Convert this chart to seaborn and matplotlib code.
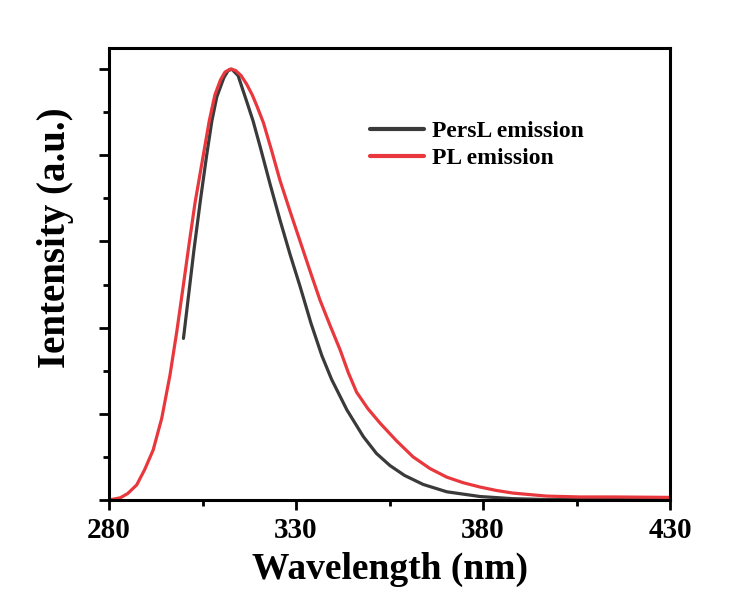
import pandas as pd
import matplotlib.pyplot as plt
import seaborn as sns
from matplotlib.ticker import FixedLocator, MultipleLocator

# PersL emission (black)
persl_nm = [299.9, 302.7, 304.5, 306.1, 307.5, 308.8, 310.7, 311.8, 312.8, 314.5,
            316.8, 318.5, 320.4, 323.0, 325.7, 328.4, 331.1, 334.0, 336.9, 339.5,
            343.6, 348.0, 351.5, 355.1, 359.0, 364.0, 370.3, 379.2, 388.0, 397.0,
            410.0, 430.0]
persl_int = [0.375, 0.580, 0.700, 0.800, 0.880, 0.935, 0.980, 0.996, 1.000, 0.985,
             0.925, 0.880, 0.820, 0.735, 0.650, 0.570, 0.495, 0.410, 0.335, 0.280,
             0.209, 0.147, 0.108, 0.080, 0.057, 0.036, 0.019, 0.008, 0.003, 0.001,
             0.001, 0.001]

# PL emission (red)
pl_nm = [280.0, 283.0, 285.0, 287.4, 289.5, 291.8, 294.1, 296.3, 298.1, 299.9,
         301.5, 303.0, 305.2, 306.8, 308.3, 309.8, 311.0, 312.4, 313.8, 315.3,
         316.8, 318.3, 319.5, 321.3, 323.5, 325.7, 328.4, 331.1, 333.8, 336.4,
         339.1, 341.8, 344.0, 346.2, 349.2, 352.5, 356.9, 361.3, 365.8, 370.3,
         374.7, 379.2, 383.6, 388.0, 397.0, 405.9, 415.0, 430.0]
pl_int = [0.000, 0.005, 0.015, 0.035, 0.070, 0.116, 0.190, 0.290, 0.390, 0.500,
          0.600, 0.690, 0.800, 0.880, 0.940, 0.975, 0.993, 1.000, 0.997, 0.985,
          0.965, 0.940, 0.915, 0.875, 0.810, 0.742, 0.670, 0.600, 0.530, 0.464,
          0.405, 0.348, 0.295, 0.250, 0.212, 0.178, 0.137, 0.100, 0.073, 0.053,
          0.040, 0.030, 0.022, 0.016, 0.009, 0.007, 0.007, 0.006]

x_ticks = [280, 330, 380, 430]
x_minor = [305, 355, 405]

persl = pd.DataFrame({'nm': persl_nm, 'intensity': persl_int})
pl = pd.DataFrame({'nm': pl_nm, 'intensity': pl_int})

sns.set_style('white')
plt.rcParams['font.family'] = ['Liberation Serif', 'DejaVu Serif']
plt.rcParams['font.weight'] = 'bold'
plt.rcParams['text.color'] = 'black'
plt.rcParams['axes.labelcolor'] = 'black'
plt.rcParams['xtick.color'] = 'black'
plt.rcParams['ytick.color'] = 'black'

fig = plt.figure(figsize=(7.52, 6.05), dpi=100)
ax = fig.add_axes([0.145, 0.1736, 0.746, 0.7471])

sns.lineplot(data=persl, x='nm', y='intensity', ax=ax, color='#3a3a3a',
             linewidth=2.3, label='PersL emission')
sns.lineplot(data=pl, x='nm', y='intensity', ax=ax, color='#e8383d',
             linewidth=2.3, label='PL emission')

ax.set_xlim(280, 430)
ax.set_ylim(0, 1.049)
ax.xaxis.set_major_locator(FixedLocator(x_ticks))
ax.xaxis.set_minor_locator(FixedLocator(x_minor))
ax.yaxis.set_major_locator(MultipleLocator(0.2))
ax.yaxis.set_minor_locator(MultipleLocator(0.1))
ax.set_yticklabels([])

for s in ax.spines.values():
    s.set_linewidth(2.2)
    s.set_color('black')

ax.tick_params(axis='both', which='major', direction='out', length=7, width=2,
               bottom=True, left=True, top=False, right=False,
               labelsize=21, pad=5)
ax.tick_params(axis='both', which='minor', direction='out', length=4, width=2,
               bottom=True, left=True, top=False, right=False)
for t in ax.get_xticklabels():
    t.set_fontweight('bold')

ax.set_xlabel('Wavelength (nm)', fontsize=27, fontweight='bold', labelpad=6)
ax.set_ylabel('Ientensity (a.u.)', fontsize=28, fontweight='bold')
ax.yaxis.set_label_coords(-0.062, 0.58)

leg = ax.legend(loc='upper left', bbox_to_anchor=(0.465, 0.84), frameon=False,
                fontsize=17, handlelength=2.3, handletextpad=0.35,
                labelspacing=0.25, borderpad=0, borderaxespad=0)
for t in leg.get_texts():
    t.set_fontweight('bold')
for l in leg.get_lines():
    l.set_linewidth(3)

fig.savefig('out.png', dpi=100)
